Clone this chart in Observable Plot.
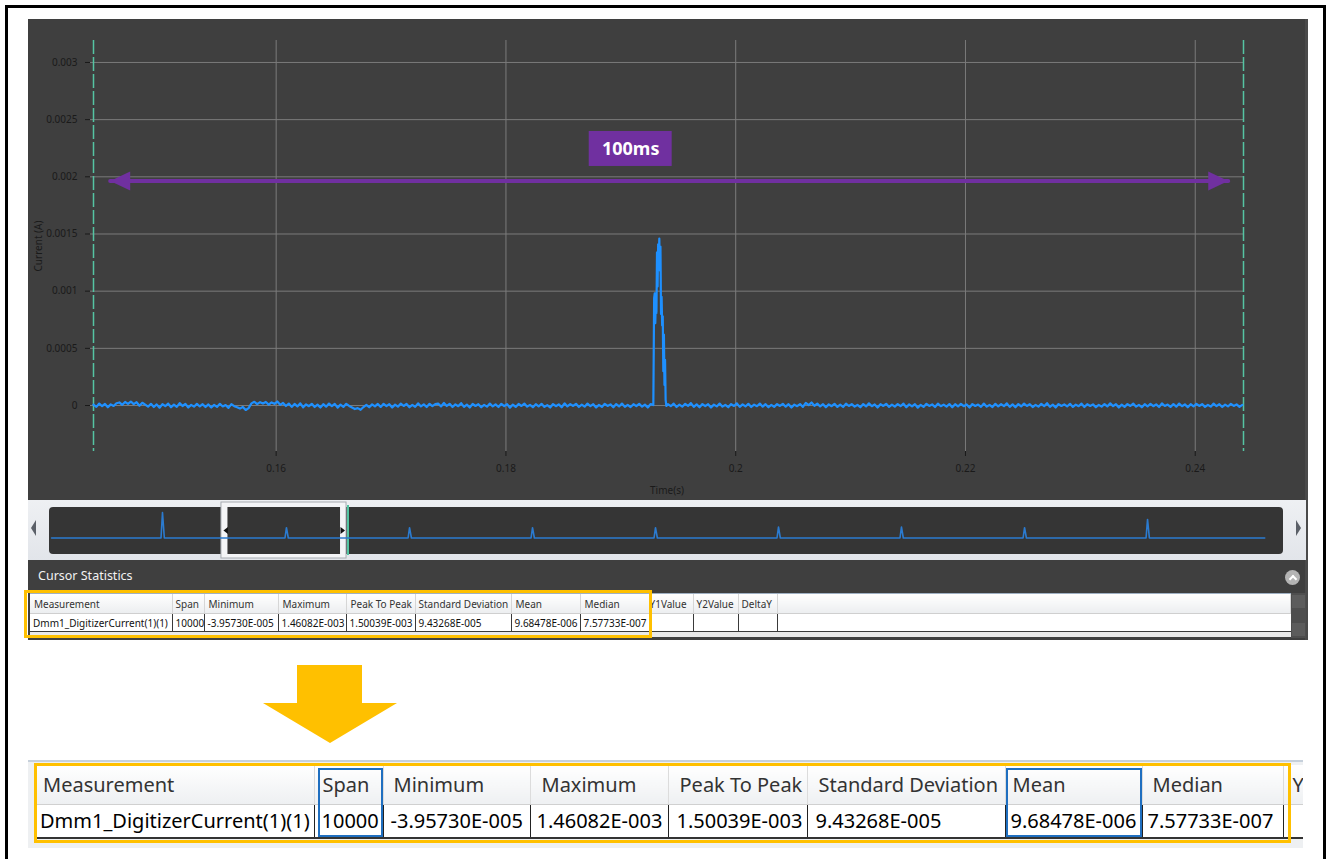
<!DOCTYPE html>
<html>
<head>
<meta charset="utf-8">
<script src="https://cdn.jsdelivr.net/npm/d3@7"></script>
<script src="https://cdn.jsdelivr.net/npm/@observablehq/plot@0.6"></script>
<style>
  html, body { margin: 0; padding: 0; background: #fff; }
  body { width: 1328px; height: 859px; position: relative; overflow: hidden; font-family: "Noto Sans", "Open Sans", sans-serif; }
  .abs { position: absolute; box-sizing: border-box; }
  #frame { left: 5px; top: 5px; width: 1321px; height: 900px; border: 3px solid #000; }
  #panel { left: 28px; top: 19px; width: 1280px; height: 621px; background: #3f3f3f; }
  #panelEdge { left: 1305px; top: 19px; width: 3px; height: 621px; background: #4a4a4a; }
  #mainChart { left: 28px; top: 19px; width: 1280px; height: 481px; }
  #navStrip { left: 28px; top: 500px; width: 1278px; height: 60px; background: linear-gradient(#eef0f3, #e2e5ea); }
  #navDark { left: 49px; top: 507px; width: 1234px; height: 47px; background: #353535; border-radius: 4px; }
  #navChart { left: 28px; top: 500px; width: 1280px; height: 60px; }
  .triL { width: 0; height: 0; border-top: 8px solid transparent; border-bottom: 8px solid transparent; border-right: 5px solid #5b6068; }
  .triR { width: 0; height: 0; border-top: 8px solid transparent; border-bottom: 8px solid transparent; border-left: 5px solid #5b6068; }
  #csTitle { left: 38px; top: 567px; color: #f2f2f2; font-size: 12.5px; line-height: 18px; }
  #csBtn { left: 1285px; top: 570px; width: 15px; height: 15px; border-radius: 50%; background: #b4b4b4; }
  #csBtn::after { content: ""; position: absolute; left: 5px; top: 6px; width: 4px; height: 4px; border-left: 2px solid #fff; border-top: 2px solid #fff; transform: rotate(45deg); }
  #smallWrap { left: 30px; top: 593px; width: 1261px; height: 44px; background: #e9e9e9; border-top: 1px solid #9fb0c3; overflow: hidden; }
  table { border-collapse: collapse; table-layout: fixed; }
  #smallTable { font-size: 10px; width: 1261px; }
  #smallTable th { height: 19px; padding: 0 0 0 4px; text-align: left; font-weight: normal; color: #333; background: linear-gradient(#ffffff, #eceef0); border-right: 1px solid #d6d6d6; border-bottom: 1px solid #cfcfcf; white-space: nowrap; overflow: hidden; }
  #smallTable td { height: 17px; padding: 0 0 0 3px; background: #fff; color: #111; border-right: 1px solid #3a3a3a; border-bottom: 1px solid #3a3a3a; white-space: nowrap; overflow: hidden; }
  #smallTable td.fill { border-right: none; }
  #scroll { left: 1291px; top: 593px; width: 15px; height: 45px; background: #4e4e4e; }
  .sbBtn { position: absolute; left: 1px; width: 13px; height: 13px; background: #5c5c5c; }
  #smallBox { left: 24px; top: 590px; width: 628px; height: 48px; border: 3px solid #ffc000; }
  #bigArrow { left: 0; top: 0; }
  #bigWrap { left: 28px; top: 760px; width: 1275px; height: 88px; background: #eef0f2; border-top: 2px solid #c6d0db; overflow: hidden; }
  #bigTable { position: absolute; left: 9px; top: 3px; font-size: 20px; width: 1366px; }
  #bigTable th { height: 39px; padding: 0 0 0 9px; text-align: left; font-weight: normal; color: #333; background: linear-gradient(#ffffff, #eef0f2); border-right: 1px solid #dcdcdc; border-bottom: 1px solid #d0d0d0; white-space: nowrap; overflow: hidden; box-sizing: border-box; }
  #bigTable td { height: 34px; padding: 0 0 0 6px; background: #fff; color: #000; border-right: 1px solid #222; border-bottom: 2px solid #333; white-space: nowrap; overflow: hidden; box-sizing: border-box; }
  .blueBox { border: 2px solid #1f6fc0; }
  #bigBox { left: 34px; top: 763px; width: 1257px; height: 80px; border: 3px solid #ffc000; }
</style>
</head>
<body>
<div id="frame" class="abs"></div>
<div id="panel" class="abs"></div>
<div id="panelEdge" class="abs"></div>
<div id="mainChart" class="abs"></div>
<div id="navStrip" class="abs"></div>
<div id="navDark" class="abs"></div>
<div class="abs triL" style="left:31px; top:520px;"></div>
<div class="abs triR" style="left:1296px; top:520px;"></div>
<div id="navChart" class="abs"></div>
<div id="csTitle" class="abs">Cursor Statistics</div>
<div id="csBtn" class="abs"></div>
<div id="smallWrap" class="abs"></div>
<div id="scroll" class="abs"><div class="sbBtn" style="top:2px"></div><div class="sbBtn" style="top:30px"></div></div>
<div id="smallBox" class="abs"></div>
<svg id="bigArrow" class="abs" width="1328" height="859" style="pointer-events:none"></svg>
<div id="bigWrap" class="abs"></div>
<div class="abs blueBox" style="left:318px; top:768px; width:65px; height:69px;"></div>
<div class="abs blueBox" style="left:1006px; top:768px; width:136px; height:69px;"></div>
<div id="bigBox" class="abs"></div>

<script>
// ---------------- data ----------------
const xTicks = [0.16, 0.18, 0.2, 0.22, 0.24];
const yTicks = [0, 0.0005, 0.001, 0.0015, 0.002, 0.0025, 0.003];
const cursorTimes = [0.1441, 0.2442];

// baseline noise, microamps, one sample every 0.25 ms from 0.1441 s
const noiseStart = 0.1441;
const noiseStep = 0.00025;
const noiseMicroAmps = [
  8,-12,17,-6,14,-15,10,-4,20,27,6,31,15,35,12,29,-2,24,8,-10,
  15,-13,10,-19,12,-6,17,-15,8,-12,21,-4,14,-17,6,-10,15,-8,12,-13,
  10,-17,6,-12,15,-8,4,-21,12,-6,-15,-27,-12,-39,-23,19,33,12,29,17,
  31,8,27,15,35,6,23,-4,17,-12,14,-8,19,-15,10,-6,15,-13,8,-17,
  12,-10,17,-6,14,-19,8,-12,15,-4,-17,-31,-23,-37,-13,6,-15,10,-8,14,
  -12,15,-6,12,-17,8,-10,17,-4,14,-15,6,-12,19,-8,10,-13,15,-6,12,
  17,-8,23,-4,15,-13,10,-6,21,-12,8,-17,14,-4,12,-15,6,-10,17,-8,
  10,-13,15,-6,12,-19,8,-12,14,-4,17,-10,6,-15,12,-8,15,-12,4,-17,
  13,-6,10,-15,19,-8,12,-4,15,-13,8,-10,17,-6,12,-17,6,-12,15,-4,
  10,-15,13,-8,17,-12,6,-13,12,-6,15,-10,8,-17,13,-4,10,-12,15,-8,
  12,-6,17,-13,8,-10,15,-4,21,-12,10,-15,13,-6,12,-17,8,-8,17,-10,
  6,-15,13,-4,19,-12,10,-8,15,-13,8,-6,17,-10,12,-15,6,-12,13,-4,
  15,-10,12,-17,8,-6,13,-12,23,4,27,-2,17,-8,12,-15,10,-6,15,-12,
  8,-13,17,-4,12,-10,6,-15,13,-8,19,-6,10,-17,12,-4,15,-12,8,-10,
  13,-6,17,-15,10,-8,12,-19,6,-12,15,-4,10,-13,17,-6,8,-10,13,-15,
  12,-8,15,-6,10,-17,13,-4,8,-12,17,-10,6,-13,15,-8,12,-6,19,-12,
  10,-15,13,-8,17,-4,12,-13,6,-10,15,-6,21,-12,8,-17,13,-4,10,-8,
  15,-12,8,-6,17,-13,12,-4,10,-15,6,-10,13,-8,19,-6,12,-17,8,-12,
  13,-4,17,-10,6,-15,12,-8,15,-6,10,-13,19,-4,8,-12,13,-10,17,-6,
  10,-15,12,-8,15,-4,13,-12,6,-10,17,-6,12,-13,8,-8,15,-4,10,-12,
  6
];

// the current pulse (s, A)
const pulseTimes = [0.19283, 0.19290, 0.19295, 0.19300, 0.19305, 0.19310, 0.19315, 0.19320, 0.19325,
  0.19330, 0.19335, 0.19340, 0.19345, 0.19350, 0.19355, 0.19360, 0.19365, 0.19370, 0.19375,
  0.19380, 0.19385, 0.19390, 0.19396];
const pulseAmps = [0.000004, 0.00094, 0.00098, 0.00072, 0.00096, 0.00081, 0.00134, 0.00104, 0.00141,
  0.00126, 0.00146, 0.00118, 0.00139, 0.00080, 0.00095, 0.00070, 0.00078, 0.00030, 0.00062,
  0.00018, 0.00040, 0.00005, -0.000004];

// span annotation
const spanArrow = { from: 0.14555, to: 0.24287, level: 0.0019636, label: "100ms" };
const spanLabelBox = { x1: 0.18725, x2: 0.19447, y1: 0.0020904, y2: 0.0023965 };

// overview navigator
const overviewStart = 0.0025, overviewEnd = 0.988;
const overviewPulseTimes = [0.0926, 0.1933, 0.2933, 0.3932, 0.4931, 0.5930, 0.6929, 0.7929, 0.8928];
const overviewPulseAmps = [0.0037, 0.0015, 0.0015, 0.0015, 0.0015, 0.0016, 0.0016, 0.0015, 0.0027];
const navWindow = { start: 0.1405, end: 0.2421 };

// statistics table
const statHeaders = ["Measurement", "Span", "Minimum", "Maximum", "Peak To Peak", "Standard Deviation", "Mean", "Median", "Y1Value", "Y2Value", "DeltaY"];
const statValues = ["Dmm1_DigitizerCurrent(1)(1)", "10000", "-3.95730E-005", "1.46082E-003", "1.50039E-003", "9.43268E-005", "9.68478E-006", "7.57733E-007", "", "", ""];

// ---------------- build series ----------------
const signal = [];
noiseMicroAmps.forEach((u, i) => {
  const t = noiseStart + i * noiseStep;
  if (t < pulseTimes[0] - 1e-6 || t > pulseTimes[pulseTimes.length - 1] + 1e-6) signal.push({ t, v: u * 1e-6 });
});
pulseTimes.forEach((t, i) => signal.push({ t, v: pulseAmps[i] }));
signal.sort((a, b) => a.t - b.t);

const overview = [{ t: overviewStart, v: 0 }];
overviewPulseTimes.forEach((t, i) => {
  overview.push({ t: t - 0.0012, v: 0 }, { t, v: overviewPulseAmps[i] }, { t: t + 0.0015, v: 0 });
});
overview.push({ t: overviewEnd, v: 0 });

const purple = "#7030a0";
const teal = "#55c4a2";
const headSymbol = { draw(ctx) { ctx.moveTo(0, 0); ctx.lineTo(-20, -9.5); ctx.lineTo(-20, 9.5); ctx.closePath(); } };
const smallLeft = { draw(ctx) { ctx.moveTo(-2.5, 0); ctx.lineTo(2, -3.5); ctx.lineTo(2, 3.5); ctx.closePath(); } };
const smallRight = { draw(ctx) { ctx.moveTo(2.5, 0); ctx.lineTo(-2, -3.5); ctx.lineTo(-2, 3.5); ctx.closePath(); } };

// ---------------- main chart ----------------
const main = Plot.plot({
  width: 1280, height: 481,
  marginLeft: 62, marginRight: 65, marginTop: 21, marginBottom: 49,
  style: { background: "transparent", fontFamily: "Noto Sans, sans-serif", fontSize: "10px", color: "#1a1a1a", overflow: "visible" },
  x: { domain: [cursorTimes[0], cursorTimes[1]], insetLeft: 3 },
  y: { domain: [-0.000402, 0.003192] },
  marks: [
    Plot.ruleY(yTicks, { stroke: "#7b7b7b", strokeWidth: 1 }),
    Plot.ruleX(xTicks, { stroke: "#7b7b7b", strokeWidth: 1 }),
    Plot.axisY({ ticks: yTicks, tickFormat: d => String(d), tickSize: 5, tickPadding: 8, label: "Current (A)", labelAnchor: "center", labelOffset: 56, labelArrow: "none" }),
    Plot.axisX({ ticks: xTicks, tickFormat: d => String(d), tickSize: 5, tickPadding: 8, label: "Time(s)", labelAnchor: "center", labelOffset: 42, labelArrow: "none" }),
    Plot.ruleX(cursorTimes, { stroke: teal, strokeWidth: 1.5, strokeDasharray: "14,3" }),
    Plot.line(signal, { x: "t", y: "v", stroke: "#1e90ff", strokeWidth: 2.2 }),
    Plot.line([{ t: spanArrow.from, v: spanArrow.level }, { t: spanArrow.to, v: spanArrow.level }], { x: "t", y: "v", stroke: purple, strokeWidth: 4 }),
    Plot.dot([spanArrow], { x: "to", y: "level", symbol: headSymbol, fill: purple, stroke: "none" }),
    Plot.dot([spanArrow], { x: "from", y: "level", symbol: headSymbol, fill: purple, stroke: "none", rotate: 180 }),
    Plot.rect([spanLabelBox], { x1: "x1", x2: "x2", y1: "y1", y2: "y2", fill: purple }),
    Plot.text([spanArrow], { x: () => (spanLabelBox.x1 + spanLabelBox.x2) / 2, y: () => (spanLabelBox.y1 + spanLabelBox.y2) / 2, text: "label", fill: "#fff", fontSize: 18, fontWeight: "bold" })
  ]
});
document.getElementById("mainChart").appendChild(main);

// ---------------- navigator ----------------
const nav = Plot.plot({
  width: 1280, height: 60,
  marginLeft: 20, marginRight: 29, marginTop: 2, marginBottom: 2,
  style: { background: "transparent", overflow: "visible" },
  x: { domain: [0, 1], axis: null },
  y: { domain: [0, 0.004], range: [37.5, 10], axis: null },
  marks: [
    Plot.rect([navWindow], { x1: "start", x2: "end", fill: "#f4f5f7", stroke: "#a7abb1", strokeWidth: 1 }),
    Plot.rect([navWindow], { x1: "start", x2: "end", fill: "#353535", insetLeft: 6.5, insetRight: 6, insetTop: 5, insetBottom: 4 }),
    Plot.ruleX([navWindow], { x: "end", stroke: teal, strokeWidth: 2, dx: 1.5, insetTop: 3, insetBottom: 3 }),
    Plot.line(overview, { x: "t", y: "v", stroke: "#2b7bd0", strokeWidth: 1.6 }),
    Plot.dot([navWindow], { x: "start", frameAnchor: "middle", symbol: smallLeft, fill: "#111", stroke: "none", dx: 4.5 }),
    Plot.dot([navWindow], { x: "end", frameAnchor: "middle", symbol: smallRight, fill: "#111", stroke: "none", dx: -4 })
  ]
});
document.getElementById("navChart").appendChild(nav);

// ---------------- tables ----------------
function buildTable(id, widths, headers, values, extraFill) {
  const t = document.createElement("table");
  t.id = id;
  const cg = document.createElement("colgroup");
  widths.forEach(w => { const c = document.createElement("col"); c.style.width = w + "px"; cg.appendChild(c); });
  if (extraFill) cg.appendChild(document.createElement("col"));
  t.appendChild(cg);
  const hr = document.createElement("tr");
  headers.forEach(h => { const th = document.createElement("th"); th.textContent = h; hr.appendChild(th); });
  if (extraFill) hr.appendChild(document.createElement("th"));
  const dr = document.createElement("tr");
  values.forEach(v => { const td = document.createElement("td"); td.textContent = v; dr.appendChild(td); });
  if (extraFill) { const td = document.createElement("td"); td.className = "fill"; dr.appendChild(td); }
  t.appendChild(hr); t.appendChild(dr);
  return t;
}
const small = buildTable("smallTable", [142, 32, 74, 68, 69, 96, 69, 69, 44, 45, 39], statHeaders, statValues, true);
document.getElementById("smallWrap").appendChild(small);

const bigCols = 9;
const big = buildTable("bigTable", [277, 69, 147, 138, 139, 198, 137, 141, 120], statHeaders.slice(0, bigCols), statValues.slice(0, bigCols), false);
document.getElementById("bigWrap").appendChild(big);
const bigPadH = [6, 8, 10, 11, 11, 11, 7, 10, 9];
const bigPadD = [3, 7, 7, 6, 8, 8, 5, 5, 6];
big.querySelectorAll("th").forEach((th, i) => th.style.paddingLeft = bigPadH[i] + "px");
big.querySelectorAll("td").forEach((td, i) => td.style.paddingLeft = bigPadD[i] + "px");
const smallPadH = [4, 3, 4, 4, 4, 3, 4, 4, 0, 3, 3];
small.querySelectorAll("th").forEach((th, i) => { if (i < smallPadH.length) th.style.paddingLeft = smallPadH[i] + "px"; });

// ---------------- big yellow arrow ----------------
const svg = d3.select("#bigArrow");
svg.append("polygon")
  .attr("points", [[297, 665], [362, 665], [362, 703], [397, 703], [330, 743], [263, 703], [297, 703]].map(p => p.join(",")).join(" "))
  .attr("fill", "#ffc000");
</script>
</body>
</html>
